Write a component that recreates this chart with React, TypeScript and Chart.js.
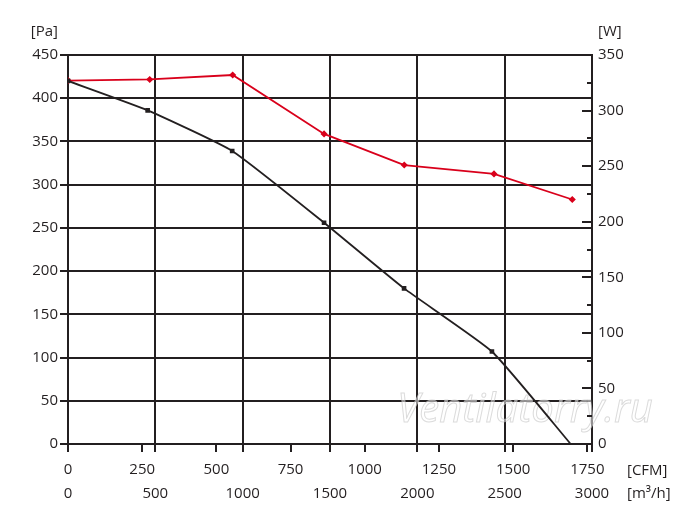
import { useEffect, useRef } from "react"
import { Chart, registerables, type ChartConfiguration, type Plugin } from "chart.js"

Chart.register(...registerables)

// pressure curve [Pa] vs flow [m3/h]
const pressureFlow = [0, 456, 940, 1466, 1924, 2427, 2878]
const pressurePa = [420, 386, 339, 256, 180, 107, 0]

// power curve [W] vs flow [m3/h]
const powerFlow = [0, 468, 943, 1466, 1925, 2439, 2887]
const powerW = [327, 328, 332, 279, 251, 243, 220]

// axis ticks
const paTicks = [0, 50, 100, 150, 200, 250, 300, 350, 400, 450]
const wTicks = [0, 50, 100, 150, 200, 250, 300, 350]
const wMinorTicks = [25, 75, 125, 175, 225, 275, 325]
const m3hTicks = [0, 500, 1000, 1500, 2000, 2500, 3000]
const cfmTicks = [0, 250, 500, 750, 1000, 1250, 1500, 1750]

const M3H_PER_CFM = 1.699
const INK = "#231f20"
const RED = "#d9001b"
const FONT = "'Open Sans', sans-serif"

const setTicks = (values: number[]) => (scale: any) => {
  scale.ticks = values.map((value) => ({ value }))
}
const plain = (v: number | string) => String(v)

const overlay: Plugin = {
  id: "overlay",
  beforeDatasetsDraw(chart) {
    const { ctx, chartArea } = chart
    ctx.save()
    ctx.font = `italic 40px ${FONT}`
    ctx.textAlign = "center"
    ctx.textBaseline = "middle"
    ctx.fillStyle = "rgba(255,255,255,0.5)"
    ctx.strokeStyle = "rgba(190,190,190,0.55)"
    ctx.lineWidth = 1
    ctx.fillText("Ventilatorry.ru", chartArea.right - 67, chartArea.bottom - 33)
    ctx.strokeText("Ventilatorry.ru", chartArea.right - 67, chartArea.bottom - 33)
    ctx.restore()
  },
  afterDraw(chart) {
    const { ctx, chartArea } = chart
    const x = chart.scales.x
    const y2 = chart.scales.y2
    ctx.save()
    ctx.strokeStyle = INK
    ctx.lineWidth = 2
    ctx.beginPath()
    // m3/h grid lines run a bit below the axis
    m3hTicks.forEach((v) => {
      const px = Math.round(x.getPixelForValue(v))
      ctx.moveTo(px, chartArea.bottom)
      ctx.lineTo(px, chartArea.bottom + 8)
    })
    // inward ticks on the power axis
    wTicks.concat(wMinorTicks).forEach((v) => {
      const py = Math.round(y2.getPixelForValue(v))
      const len = v % 50 === 0 ? 10 : 5
      ctx.moveTo(chartArea.right - len, py)
      ctx.lineTo(chartArea.right, py)
    })
    ctx.stroke()

    ctx.fillStyle = INK
    ctx.font = `15px ${FONT}`
    ctx.textBaseline = "middle"
    ctx.textAlign = "right"
    ctx.fillText("[Pa]", chartArea.left - 10, 32)
    ctx.textAlign = "left"
    ctx.fillText("[W]", chartArea.right + 6, 32)
    ctx.fillText("[CFM]", chartArea.right + 35, chartArea.bottom + 27)
    ctx.fillText("[m³/h]", chartArea.right + 35, chartArea.bottom + 50)
    ctx.restore()
  },
}

function FanChart() {
  const chartRef = useRef<HTMLCanvasElement>(null)
  const chartInstance = useRef<Chart | null>(null)

  useEffect(() => {
    if (!chartRef.current) return
    const ctx = chartRef.current.getContext("2d")
    if (!ctx) return

    if (chartInstance.current) {
      chartInstance.current.destroy()
    }

    const tickFont = { family: FONT, size: 15 }

    const config: ChartConfiguration<"line"> = {
      type: "line",
      data: {
        datasets: [
          {
            label: "Pa",
            data: pressureFlow.map((f, i) => ({ x: f, y: pressurePa[i] })),
            borderColor: INK,
            backgroundColor: INK,
            borderWidth: 1.8,
            tension: 0.15,
            pointStyle: "rect",
            pointRadius: pressureFlow.map((_, i) => (i === pressureFlow.length - 1 ? 0 : 2)),
            xAxisID: "x",
            yAxisID: "y",
          },
          {
            label: "W",
            data: powerFlow.map((f, i) => ({ x: f, y: powerW[i] })),
            borderColor: RED,
            backgroundColor: RED,
            borderWidth: 1.8,
            tension: 0,
            pointStyle: "rectRot",
            pointRadius: 2.3,
            xAxisID: "x",
            yAxisID: "y2",
          },
        ],
      },
      options: {
        animation: false,
        responsive: true,
        maintainAspectRatio: false,
        layout: { padding: { top: 55, bottom: 24, left: 0, right: 0 } },
        plugins: {
          legend: { display: false },
          tooltip: { enabled: false },
        },
        scales: {
          x: {
            type: "linear",
            position: "bottom",
            weight: 1,
            min: 0,
            max: 3000,
            afterBuildTicks: setTicks(m3hTicks),
            afterFit: (s) => {
              s.height = 24
            },
            grid: { color: INK, lineWidth: 2, drawTicks: false },
            border: { display: false },
            ticks: { color: INK, font: tickFont, padding: 3, maxRotation: 0, callback: plain },
          },
          cfm: {
            type: "linear",
            position: "bottom",
            weight: 0,
            min: 0,
            max: 3000 / M3H_PER_CFM,
            afterBuildTicks: setTicks(cfmTicks),
            afterFit: (s) => {
              s.height = 38
            },
            grid: { color: INK, lineWidth: 2, drawOnChartArea: false, tickLength: 8 },
            border: { display: true, color: INK, width: 2 },
            ticks: { color: INK, font: tickFont, padding: 9, maxRotation: 0, callback: plain },
          },
          y: {
            type: "linear",
            position: "left",
            min: 0,
            max: 450,
            afterBuildTicks: setTicks(paTicks),
            afterFit: (s) => {
              s.width = 68
            },
            grid: { color: INK, lineWidth: 2, tickLength: 8 },
            border: { display: true, color: INK, width: 2 },
            ticks: { color: INK, font: tickFont, padding: 2, callback: plain },
          },
          y2: {
            type: "linear",
            position: "right",
            min: 0,
            max: 350,
            afterBuildTicks: setTicks(wTicks),
            afterFit: (s) => {
              s.width = 108
            },
            grid: { color: INK, lineWidth: 2, drawOnChartArea: false, drawTicks: false },
            border: { display: true, color: INK, width: 2 },
            ticks: { color: INK, font: tickFont, padding: 6, callback: plain },
          },
        },
      },
      plugins: [overlay],
    }

    chartInstance.current = new Chart(ctx, config)

    return () => {
      if (chartInstance.current) {
        chartInstance.current.destroy()
        chartInstance.current = null
      }
    }
  }, [])

  return <canvas ref={chartRef} />
}

export default function App() {
  return (
    <div style={{ position: "fixed", left: 0, top: 0, width: 700, height: 530, background: "#fff" }}>
      <FanChart />
    </div>
  )
}
